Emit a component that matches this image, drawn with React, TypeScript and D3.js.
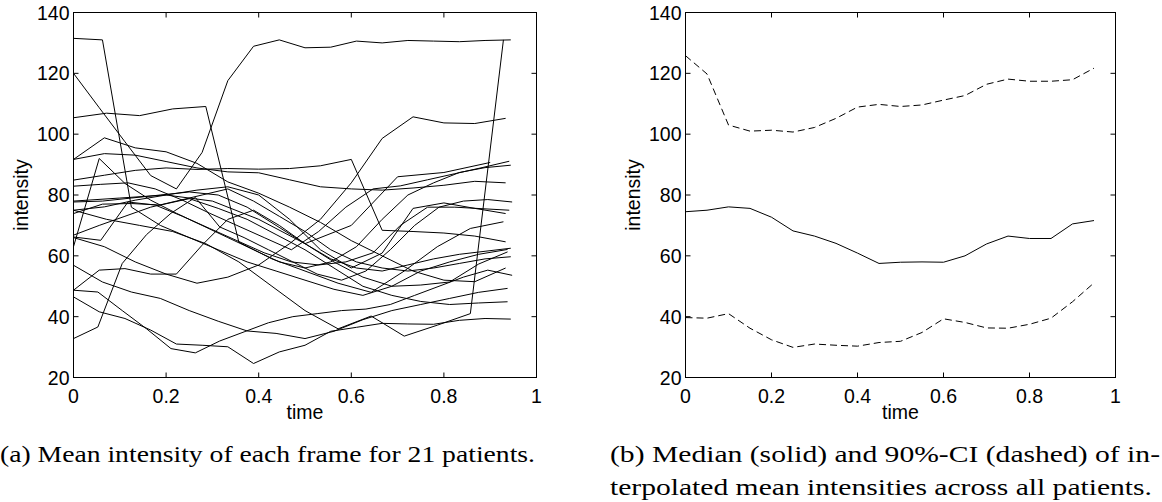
import React from "react";
import * as d3 from "d3";

// (a) mean intensity per frame, one array per patient (frames spread over 0..1)
const patientIntensity: number[][] = [
  [131.5, 131, 76, 70, 66, 62, 58, 55, 52, 49, 47, 50, 55, 58, 60.5, 62.1],
  [120, 108.7, 97.5, 86.4, 82, 94, 117.6, 128.9, 131, 128.4, 128.6, 130.6, 130, 130.8, 130.6, 130.4, 130.8, 131],
  [105.4, 106.9, 106.1, 108.3, 109.1, 64.5, 59, 55, 51, 48, 55, 63, 69, 71.2],
  [91.7, 98.8, 95.5, 94.2, 90.4, 84.3, 80.6, 76, 71, 65, 60, 55, 52, 51.5, 56],
  [91.7, 93.6, 93.1, 91, 88.9, 87.6, 87.3, 85, 82.7, 82, 81.6, 82.3, 83.2, 84.5, 84],
  [84.9, 86.5, 88.1, 88.9, 88.4, 88.7, 88.5, 88.7, 89.6, 91.7, 68.4, 68, 67.5, 66.5, 64.6],
  [82.9, 83.5, 84, 82, 78.3, 74, 70, 66, 62, 68, 76, 82, 83, 85, 87, 89, 91.1],
  [66.2, 65.1, 77.7, 76.7, 73, 69, 65, 61, 58, 57, 58, 61, 70, 76, 76, 75.5, 75],
  [63, 92, 83.8, 78.3, 74, 70, 66, 62, 58, 56, 58, 63, 72, 80, 84, 87.4, 89, 89.8],
  [32.8, 36.6, 57.5, 67, 74, 79.2, 69.5, 66, 62, 58, 54, 52, 55, 62, 70, 76, 78, 78.5, 77.7],
  [48.7, 55.3, 55.8, 54, 54, 63.5, 72, 75, 70, 64, 59, 56, 55, 57, 59, 60.5, 61.5, 62.5],
  [75, 72, 70, 68, 64, 58, 50, 42, 36, 40.2, 33.6, 37.2, 41, 131],
  [46.5, 41.6, 39.4, 35.6, 31, 30.6, 30.1, 24.6, 28.4, 30.6, 35.2, 36.5, 37.8, 37.6, 37.5, 38.8, 39.4, 39.2],
  [56.9, 51.4, 48.1, 46, 42, 38.5, 35.3, 34.5, 32.8, 35.2, 39, 42, 44, 46, 48, 49.3],
  [48.7, 48.1, 42, 36, 29.5, 28.1, 32, 35, 38, 40, 41, 42, 42.5, 44, 47, 50, 53, 55.3, 53.6],
  [66, 63, 58, 54, 51, 53, 57, 64, 72, 84, 98.6, 105.7, 103.7, 103.5, 105.2],
  [77.7, 78, 79, 80, 81, 80, 76, 70, 64, 58, 53, 50, 50.4, 51.4, 57.3, 61.3],
  [73.9, 77, 77.2, 76.7, 78.8, 75.6, 72, 67, 62, 56, 50, 47, 45, 44, 44.5, 44.9],
  [75, 76.1, 78.3, 80, 81.6, 82.7, 80, 72, 62, 56, 60.9, 75.6, 77.4, 75.6, 73.9],
  [66.8, 70, 73, 76, 78, 80, 82, 78, 73, 68, 62, 58, 56, 55, 56, 57.5, 59, 59.7],
  [78, 79, 80, 78, 72, 64, 70, 86, 87.4, 90.7],
];

// (b) interpolated grid, median and 90% band
const gridTime = [0, 0.05, 0.1, 0.15, 0.2, 0.25, 0.3, 0.35, 0.4, 0.45, 0.5, 0.55, 0.6, 0.65, 0.7, 0.75, 0.8, 0.85, 0.9, 0.95];
const medianIntensity = [74.5, 75.0, 76.1, 75.6, 72.7, 68.2, 66.5, 64.1, 60.9, 57.5, 57.9, 58.0, 57.9, 60.0, 63.9, 66.5, 65.7, 65.7, 70.5, 71.6];
const ciUpper = [125.8, 119.8, 103.0, 101.0, 101.3, 100.7, 102.2, 105.2, 108.9, 109.8, 109.1, 109.6, 111.2, 112.7, 116.4, 118.1, 117.4, 117.4, 117.9, 121.7];
const ciLower = [39.7, 39.5, 41.0, 36.2, 32.4, 29.9, 31.0, 30.6, 30.3, 31.5, 31.9, 34.8, 39.3, 38.1, 36.3, 36.2, 37.5, 39.5, 44.9, 51.1];

const xTicks = [0, 0.2, 0.4, 0.6, 0.8, 1];
const yTicks = [20, 40, 60, 80, 100, 120, 140];

const captionA = "(a) Mean intensity of each frame for 21 patients.";
const captionB1 = "(b) Median (solid) and 90%-CI (dashed) of in-";
const captionB2 = "terpolated mean intensities across all patients.";

const SANS = "Arial";
const SERIF = "Times New Roman";

type Lin = d3.ScaleLinear<number, number>;

function Axes({ x, y }: { x: Lin; y: Lin }) {
  const [x0, x1] = x.range();
  const [y0, y1] = y.range();
  const tk = 5;
  return (
    <g fontFamily={SANS} fontSize={19.5} fill="#000">
      <rect x={x0} y={y1} width={x1 - x0} height={y0 - y1} fill="none" stroke="#000" strokeWidth={1} />
      {xTicks.map((t) => (
        <g key={"x" + t}>
          <line x1={x(t)} x2={x(t)} y1={y0} y2={y0 - tk} stroke="#000" />
          <line x1={x(t)} x2={x(t)} y1={y1} y2={y1 + tk} stroke="#000" />
          <text x={x(t)} y={y0 + 25.5} textAnchor="middle">{d3.format("~g")(t)}</text>
        </g>
      ))}
      {yTicks.map((v) => (
        <g key={"y" + v}>
          <line x1={x0} x2={x0 + tk} y1={y(v)} y2={y(v)} stroke="#000" />
          <line x1={x1} x2={x1 - tk} y1={y(v)} y2={y(v)} stroke="#000" />
          <text x={x0 - 4} y={y(v) + 7} textAnchor="end">{v}</text>
        </g>
      ))}
      <text x={(x0 + x1) / 2} y={y0 + 41.5} textAnchor="middle">time</text>
      <text transform={`translate(${x0 - 46},${(y0 + y1) / 2}) rotate(-90)`} textAnchor="middle">intensity</text>
    </g>
  );
}

export default function App() {
  const xa = d3.scaleLinear().domain([0, 1]).range([73.5, 536.5]);
  const ya = d3.scaleLinear().domain([20, 140]).range([377.5, 12.5]);
  const xb = d3.scaleLinear().domain([0, 1]).range([685.5, 1115.5]);
  const yb = d3.scaleLinear().domain([20, 140]).range([377.5, 12.5]);

  const lineA = d3
    .line<number>()
    .x((_, i, arr) => xa(i / (arr as number[]).length))
    .y((v) => ya(v));
  const lineB = d3
    .line<number>()
    .x((_, i) => xb(gridTime[i]))
    .y((v) => yb(v));

  return (
    <svg
      width={1162}
      height={502}
      style={{ position: "absolute", left: 0, top: 0, background: "#fff" }}
    >
      <g fill="none" stroke="#000" strokeWidth={1}>
        {patientIntensity.map((p, i) => (
          <path key={i} d={lineA(p) || ""} />
        ))}
      </g>
      <Axes x={xa} y={ya} />

      <g fill="none" stroke="#000" strokeWidth={1}>
        <path d={lineB(medianIntensity) || ""} />
        <path d={lineB(ciUpper) || ""} strokeDasharray="7,4" />
        <path d={lineB(ciLower) || ""} strokeDasharray="7,4" />
      </g>
      <Axes x={xb} y={yb} />

      <g fontFamily={SERIF} fontSize={24} fill="#000">
        <text x={0} y={462} textLength={535} lengthAdjust="spacingAndGlyphs">{captionA}</text>
        <text x={610} y={462} textLength={550} lengthAdjust="spacingAndGlyphs">{captionB1}</text>
        <text x={610} y={495} textLength={542} lengthAdjust="spacingAndGlyphs">{captionB2}</text>
      </g>
    </svg>
  );
}
